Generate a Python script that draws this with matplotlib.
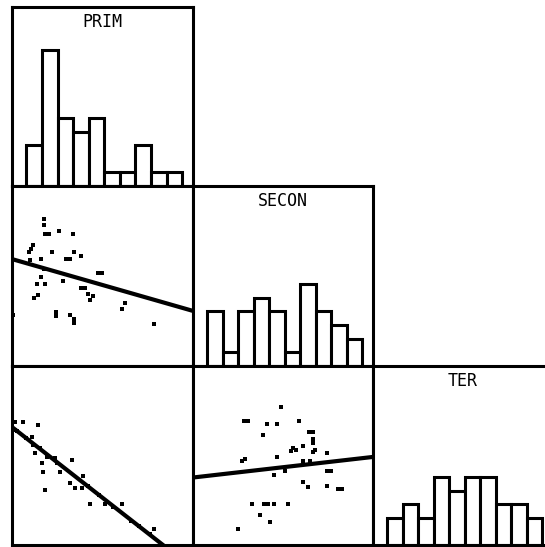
import matplotlib
matplotlib.use('Agg')
import matplotlib.pyplot as plt
import numpy as np

# histogram counts (10 equal bins each)
prim_counts = [3, 10, 5, 4, 5, 1, 1, 3, 1, 1]
secon_counts = [4, 1, 4, 5, 4, 1, 6, 4, 3, 2]
ter_counts = [2, 3, 2, 5, 4, 5, 5, 3, 3, 2]

# scatter PRIM (x) vs SECON (y), scaled 0-100 on the panel
prim_a = [17.7, 17.7, 18.2, 20.4, 26.0, 33.7, 11.6, 10.5, 9.4, 22.1, 34.3, 38.1, 29.8,
          32.0, 16.0, 9.9, 17.7, 16.0, 28.2, 47.5, 49.7, 13.8, 18.2, 38.1, 40.3, 42.0,
          44.8, 43.1, 14.4, 12.2, 62.4, 60.8, 0.6, 24.3, 24.3, 32.0, 34.3, 34.3, 78.5]
secon_a = [81.7, 78.3, 73.3, 73.3, 75.0, 73.3, 67.2, 65.0, 63.3, 63.3, 63.3, 61.1, 59.4,
           59.4, 59.4, 58.9, 53.9, 49.4, 47.2, 51.7, 51.7, 45.6, 45.6, 43.3, 43.3, 40.0,
           38.9, 36.7, 39.4, 37.8, 35.0, 31.7, 28.3, 30.0, 27.8, 28.3, 26.1, 23.9, 23.3]
fit_a = [59.4, 30.6]   # fitted value at x=0 and x=100

# scatter PRIM (x) vs TER (y)
prim_c = [1.7, 6.1, 14.4, 1.7, 11.0, 11.6, 15.5, 12.7, 19.3, 23.8, 33.1, 16.6, 17.1,
          26.5, 39.2, 32.0, 34.8, 38.7, 18.2, 43.1, 51.4, 60.8, 78.5,
          3.0, 8.0, 20.0, 25.0, 42.0, 48.0, 56.0, 66.0, 70.0, 76.0]
ter_c = [68.7, 68.7, 67.0, 64.2, 60.3, 55.9, 54.2, 51.4, 49.2, 48.6, 47.5, 45.8, 40.8,
         40.8, 38.5, 34.6, 31.8, 31.8, 30.7, 22.9, 22.9, 22.9, 8.9,
         63.5, 59.5, 50.0, 46.0, 33.0, 28.0, 21.5, 13.5, 10.5, 6.0]
fit_c = [65.9, -13.1]

# scatter SECON (x) vs TER (y)
secon_d = [48.9, 28.3, 30.6, 41.1, 46.7, 58.9, 38.9, 64.4, 66.7, 66.7, 66.7, 55.6, 54.4,
           57.2, 67.8, 66.7, 61.1, 74.4, 46.7, 28.9, 27.2, 65.0, 61.1, 74.4, 76.7, 45.0,
           51.1, 61.1, 63.9, 74.4, 80.6, 82.8, 32.8, 39.4, 41.7, 45.0, 52.8, 37.2, 42.8, 25.0]
ter_d = [77.1, 69.3, 69.3, 67.6, 67.6, 69.3, 61.5, 63.1, 63.1, 59.2, 57.0, 54.2, 52.5,
         53.1, 53.1, 52.0, 55.3, 51.4, 49.2, 48.0, 46.9, 46.9, 46.9, 41.3, 41.3, 39.1,
         41.3, 35.2, 32.4, 33.0, 31.3, 31.3, 22.9, 22.9, 22.9, 22.9, 22.9, 16.8, 12.8, 8.9]
fit_d = [37.7, 49.2]

W, H = 545, 547
fig = plt.figure(figsize=(W / 100, H / 100), dpi=100)
LW = 2.2


def panel(left, top, w, h):
    ax = fig.add_axes([left / W, 1 - (top + h) / H, w / W, h / H])
    ax.set_xticks([])
    ax.set_yticks([])
    for s in ax.spines.values():
        s.set_linewidth(LW)
        s.set_color('black')
    ax.set_xlim(0, 100)
    return ax


def hist_panel(ax, counts, name):
    edges = np.linspace(8, 94, len(counts) + 1)
    ax.bar(edges[:-1], counts, width=np.diff(edges), align='edge',
           facecolor='white', edgecolor='black', linewidth=LW)
    ax.set_ylim(0, 13.2)
    ax.text(0.5, 0.965, name, transform=ax.transAxes, ha='center', va='top',
            family='DejaVu Sans Mono', fontsize=12)


def scatter_panel(ax, x, y, fit):
    ax.plot([0, 100], fit, color='black', linewidth=3.0, solid_capstyle='butt')
    ax.scatter(x, y, marker='s', s=9, color='black', linewidths=0)
    ax.set_ylim(0, 100)


ax1 = panel(12, 7, 181, 179)
hist_panel(ax1, prim_counts, 'PRIM')

ax2 = panel(12, 186, 181, 180)
scatter_panel(ax2, prim_a, secon_a, fit_a)

ax3 = panel(193, 186, 180, 180)
hist_panel(ax3, secon_counts, 'SECON')

ax4 = panel(12, 366, 181, 179)
scatter_panel(ax4, prim_c, ter_c, fit_c)

ax5 = panel(193, 366, 180, 179)
scatter_panel(ax5, secon_d, ter_d, fit_d)

ax6 = panel(373, 366, 180, 179)
hist_panel(ax6, ter_counts, 'TER')

fig.savefig('out.png', dpi=100)
